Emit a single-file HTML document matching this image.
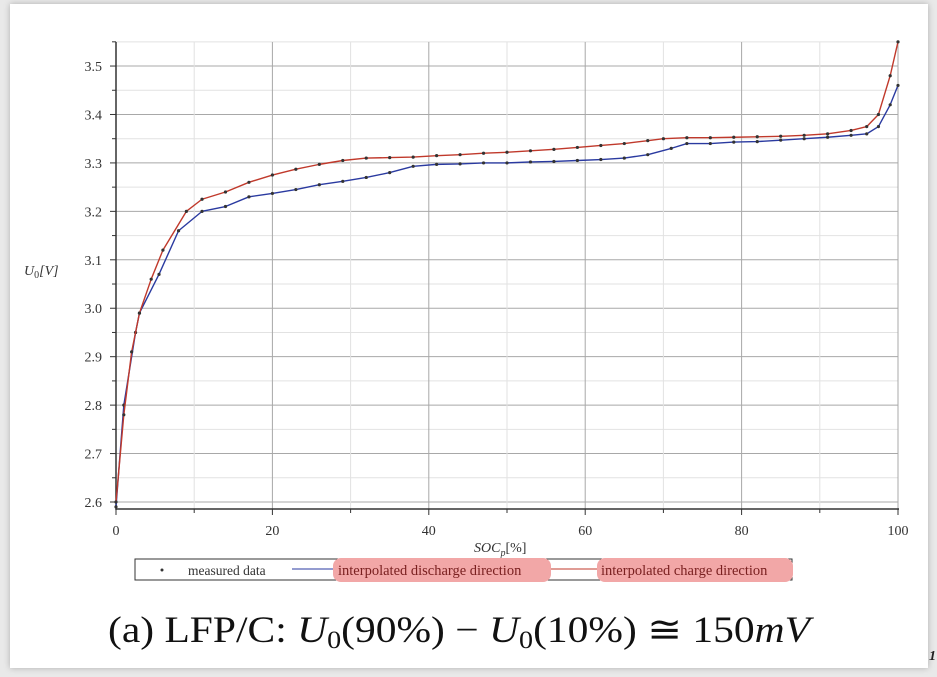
<!DOCTYPE html>
<html><head><meta charset="utf-8"><style>
body{margin:0;width:937px;height:677px;background:#e9e9e9;overflow:hidden;position:relative;font-family:"Liberation Serif",serif}
#card{position:absolute;left:10px;top:4px;width:918px;height:664px;background:#fff;box-shadow:0 0 6px rgba(0,0,0,.25)}
svg{position:absolute;left:0;top:0}
</style></head><body>
<div id="card"></div>
<svg id="s" width="937" height="677" xmlns="http://www.w3.org/2000/svg" font-family="Liberation Serif, serif"></svg>
<script>
const s=document.getElementById('s');let h='';
const X=v=>116+v*7.82, Y=v=>502-(v-2.6)*484.4;
for(let i=0;i<=19;i++){const v=2.6+i*0.05,y=Y(v);const major=i%2==0;h+=`<line x1="116" x2="898" y1="${y}" y2="${y}" stroke="${major?'#a8a8a8':'#e2e2e2'}" stroke-width="1"/>`;}
for(let i=1;i<=10;i++){const x=X(i*10);const major=i%2==0;h+=`<line x1="${x}" x2="${x}" y1="42" y2="509" stroke="${major?'#a8a8a8':'#e2e2e2'}"/>`;}
h+=`<line x1="116" x2="116" y1="42" y2="510" stroke="#333" stroke-width="1.5"/><line x1="116" x2="899" y1="509" y2="509" stroke="#333" stroke-width="1.5"/>`;
for(let i=0;i<=19;i++){const y=Y(2.6+i*0.05);h+=`<line x1="${i%2?112:110}" x2="116" y1="${y}" y2="${y}" stroke="#333"/>`;if(i%2==0)h+=`<text x="102" y="${y+5}" font-size="14" text-anchor="end" fill="#333">${(2.6+i*0.05).toFixed(1)}</text>`;}
for(let i=0;i<=10;i++){const x=X(i*10);h+=`<line x1="${x}" x2="${x}" y1="509" y2="${i%2?513:515}" stroke="#333"/>`;if(i%2==0)h+=`<text x="${x}" y="535" font-size="14" text-anchor="middle" fill="#333">${i*10}</text>`;}
h+=`<text x="24" y="275" font-size="14" font-style="italic" fill="#333">U<tspan font-size="10" dy="3" font-style="normal">0</tspan><tspan dy="-3">[V]</tspan></text>`;
h+=`<text x="474" y="552" font-size="14" font-style="italic" fill="#333">SOC<tspan font-size="10" dy="4">p</tspan><tspan dy="-4" font-style="normal">[%]</tspan></text>`;
const B=[[0,2.59],[1,2.8],[2.5,2.95],[3,2.99],[5.5,3.07],[8,3.16],[11,3.2],[14,3.21],[17,3.23],[20,3.237],[23,3.245],[26,3.255],[29,3.262],[32,3.27],[35,3.28],[38,3.293],[41,3.297],[44,3.298],[47,3.3],[50,3.3],[53,3.302],[56,3.303],[59,3.305],[62,3.307],[65,3.31],[68,3.317],[71,3.33],[73,3.34],[76,3.34],[79,3.343],[82,3.344],[85,3.347],[88,3.35],[91,3.353],[94,3.357],[96,3.36],[97.5,3.375],[99,3.42],[100,3.46]];
const R=[[0,2.6],[1,2.78],[2,2.91],[3,2.99],[4.5,3.06],[6,3.12],[9,3.2],[11,3.225],[14,3.24],[17,3.26],[20,3.275],[23,3.287],[26,3.297],[29,3.305],[32,3.31],[35,3.311],[38,3.312],[41,3.315],[44,3.317],[47,3.32],[50,3.322],[53,3.325],[56,3.328],[59,3.332],[62,3.336],[65,3.34],[68,3.346],[70,3.35],[73,3.352],[76,3.352],[79,3.353],[82,3.354],[85,3.355],[88,3.357],[91,3.36],[94,3.367],[96,3.375],[97.5,3.4],[99,3.48],[100,3.55]];
function line(p,c){h+=`<polyline fill="none" stroke="${c}" stroke-width="1.4" stroke-linejoin="round" points="${p.map(q=>X(q[0])+','+Y(q[1])).join(' ')}"/>`;p.forEach(q=>h+=`<circle cx="${X(q[0])}" cy="${Y(q[1])}" r="1.6" fill="#333"/>`);}
line(B,'#2a3aa0');line(R,'#c0392b');
h+=`<rect x="135" y="559" width="657" height="21" fill="#fff" stroke="#333"/>`;
h+=`<circle cx="162" cy="570" r="1.5" fill="#333"/><text x="188" y="575" font-size="13.5" fill="#333">measured data</text>`;
h+=`<line x1="292" x2="334" y1="569" y2="569" stroke="#2a3aa0"/>`;
h+=`<rect x="333" y="558" width="218" height="24" rx="8" fill="#f2a7a7"/><text x="338" y="575" font-size="14.5" fill="#7a2020">interpolated discharge direction</text>`;
h+=`<line x1="551" x2="597" y1="569" y2="569" stroke="#c0392b"/>`;
h+=`<rect x="597" y="558" width="196" height="24" rx="8" fill="#f2a7a7"/><text x="601" y="575" font-size="14.5" fill="#7a2020">interpolated charge direction</text>`;
h+=`<text x="108" y="642" font-size="37" fill="#111" textLength="702" lengthAdjust="spacingAndGlyphs">(a) LFP/C: <tspan font-style="italic">U</tspan><tspan font-size="25" dy="6">0</tspan><tspan dy="-6">(90%) − </tspan><tspan font-style="italic">U</tspan><tspan font-size="25" dy="6">0</tspan><tspan dy="-6">(10%) ≅ 150</tspan><tspan font-style="italic">mV</tspan></text>`;
h+=`<text x="929" y="660" font-size="14" font-style="italic" font-weight="bold" fill="#222">1</text>`;
s.innerHTML=h;
</script>
</body></html>
